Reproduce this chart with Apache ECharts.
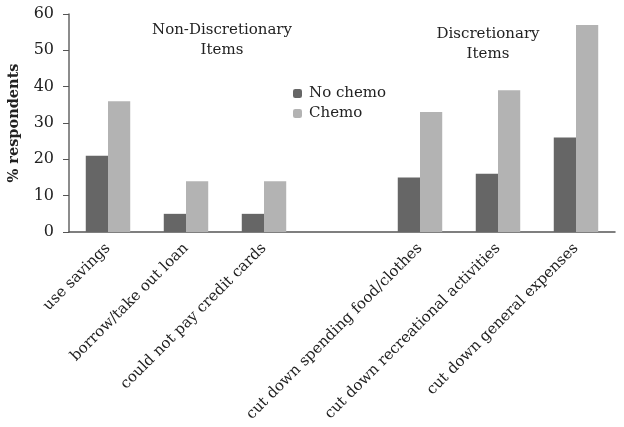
<!DOCTYPE html>
<html><head><meta charset="utf-8">
<script src="https://cdn.jsdelivr.net/npm/echarts@6/dist/echarts.min.js"></script>
<style>html,body{margin:0;padding:0;background:#fff}#c{width:624px;height:427px}</style>
</head><body><div id="c"></div>
<script>
const categories = ["use savings","borrow/take out loan","could not pay credit cards","","cut down spending food/clothes","cut down recreational activities","cut down general expenses"];
const noChemo = [21,5,5,null,15,16,26];
const chemo = [36,14,14,null,33,39,57];
const yTicks = {min:0,max:60,interval:10};
const FONT = "DejaVu Serif";
const chart = echarts.init(document.getElementById('c'));
chart.setOption({
  animation:false,
  backgroundColor:'#fff',
  textStyle:{fontFamily:FONT},
  grid:{left:69,right:9,top:14,bottom:195,containLabel:false,outerBoundsMode:'none'},
  legend:{orient:'vertical',left:288,top:81,itemWidth:9,itemHeight:9,itemGap:5,
    textStyle:{fontFamily:FONT,fontSize:15,color:'#222',padding:[0,0,0,2]},
    data:['No chemo','Chemo']},
  xAxis:{type:'category',data:categories,
    axisLine:{lineStyle:{color:'#555',width:1.5}},axisTick:{show:false},
    axisLabel:{rotate:45,fontFamily:FONT,fontSize:15,color:'#222',interval:0,margin:14}},
  yAxis:{type:'value',min:yTicks.min,max:yTicks.max,interval:yTicks.interval,
    name:'% respondents',nameLocation:'middle',nameGap:47,
    nameTextStyle:{fontFamily:FONT,fontSize:14.5,fontWeight:'bold',color:'#222'},
    axisLine:{show:true,lineStyle:{color:'#666',width:1.5}},
    axisTick:{show:true,length:6,lineStyle:{color:'#555'}},
    splitLine:{show:false},
    axisLabel:{fontFamily:FONT,fontSize:16,color:'#222',margin:15}},
  graphic:[
    {type:'text',style:{text:'Non-Discretionary\nItems',x:222,y:20,align:'center',font:'15px "DejaVu Serif"',fill:'#222',lineHeight:20}},
    {type:'text',style:{text:'Discretionary\nItems',x:488,y:24,align:'center',font:'15px "DejaVu Serif"',fill:'#222',lineHeight:20}}
  ],
  series:[
    {name:'No chemo',type:'bar',data:noChemo,barGap:'0%',barCategoryGap:'43%',itemStyle:{color:'#666666'}},
    {name:'Chemo',type:'bar',data:chemo,itemStyle:{color:'#b3b3b3'}}
  ]
});
</script></body></html>
